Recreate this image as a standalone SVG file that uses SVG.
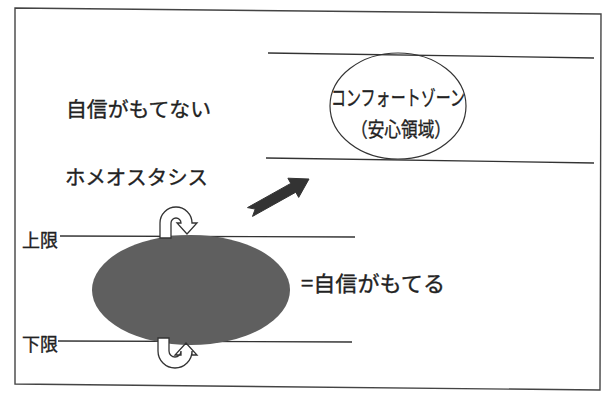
<svg xmlns="http://www.w3.org/2000/svg" width="614" height="398" viewBox="0 0 614 398">
<style>
.t{font-family:"Noto Sans CJK JP","Noto Sans",sans-serif;fill:#222;stroke:#222;stroke-width:0.35;}
.ln{stroke:#333;stroke-width:1.3;fill:none;}
.ua{fill:#fff;stroke:#333;stroke-width:1.3;stroke-linejoin:miter;}
</style>
<rect width="614" height="398" fill="#fff"/>
<polygon points="15,8 601,14 600,390 15,384" fill="none" stroke="#444" stroke-width="1.4"/>
<g id="connectors">
<line class="ln" x1="268" y1="53" x2="594" y2="58"/>
<line class="ln" x1="266" y1="158" x2="594" y2="163"/>
<line class="ln" x1="60" y1="236" x2="355" y2="237"/>
<line class="ln" x1="58" y1="341" x2="352" y2="342"/>
<path d="M247.5,207.6 L290.8,183.4 L287.9,178.2 L309,179 L298.7,197.4 L295.8,192.2 L252.5,216.4 L255.2,209.1 Z" fill="#333" stroke="#333" stroke-width="1" stroke-linejoin="round"/>
</g>
<g id="comfort">
<ellipse cx="398" cy="106" rx="68" ry="53" fill="none" stroke="#333" stroke-width="1.2"/>
<text class="t" x="331" y="105" font-size="21" textLength="134" lengthAdjust="spacingAndGlyphs">コンフォートゾーン</text>
<text class="t" x="351" y="137" font-size="20" textLength="100" lengthAdjust="spacingAndGlyphs">（安心領域）</text>
</g>
<g id="label-notconfident"><text class="t" x="66" y="117" font-size="20" textLength="145" lengthAdjust="spacingAndGlyphs">自信がもてない</text></g>
<g id="label-homeo"><text class="t" x="65" y="185" font-size="20" textLength="143" lengthAdjust="spacingAndGlyphs">ホメオスタシス</text></g>
<g id="label-upper"><text class="t" x="22" y="247" font-size="18">上限</text></g>
<g id="label-lower"><text class="t" x="22" y="351" font-size="18">下限</text></g>
<g id="confident">
<ellipse cx="191" cy="290" rx="99" ry="55" fill="#5f5f5f"/>
<text class="t" x="301" y="291" font-size="21" textLength="144" lengthAdjust="spacingAndGlyphs">=自信がもてる</text>
</g>
<g id="arrow-up">
<path class="ua" d="M160,238 L160,223 A16,16 0 0 1 192,223 L197,223 L187,234 L177,223 L181,223 A5,5 0 0 0 171,223 L171,238 Z"/>
</g>
<g id="arrow-down">
<path class="ua" d="M158,338 L158,351 A17,17 0 0 0 192,351 L192,355 L197,355 L186,343 L175,355 L181,355 L181,351 A6,6 0 0 1 169,351 L169,338 Z"/>
</g>
</svg>
